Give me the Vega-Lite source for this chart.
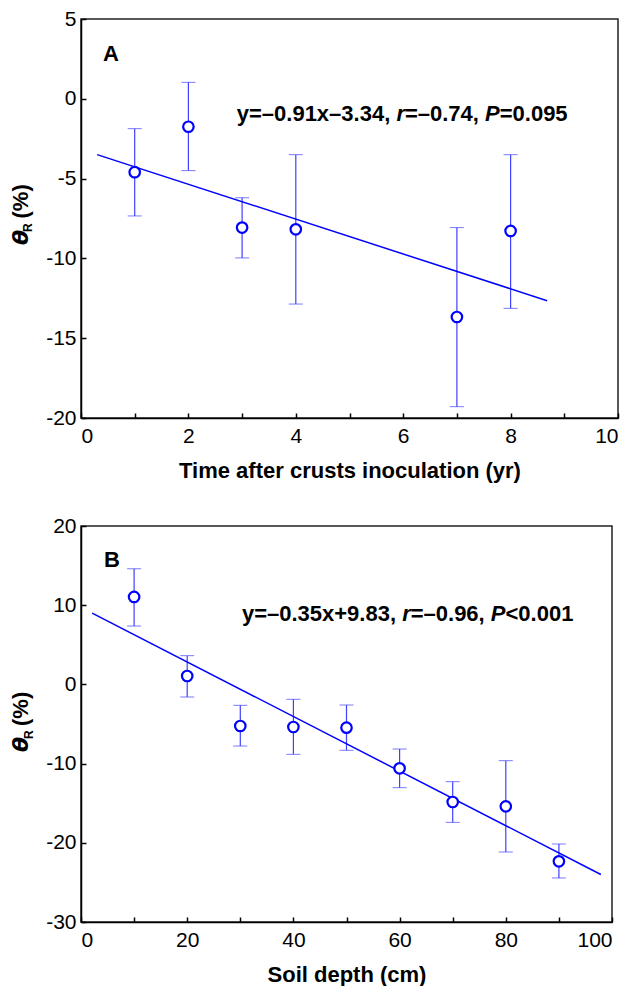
{
  "$schema": "https://vega.github.io/schema/vega-lite/v6.json",
  "background": "white",
  "padding": {"left": 8, "top": 7, "right": 5, "bottom": 0},
  "spacing": 32,
  "config": {
    "font": "Liberation Sans",
    "view": {"stroke": "#222222", "strokeWidth": 1.5},
    "axis": {
      "grid": false,
      "labelFont": "Liberation Sans",
      "labelFontSize": 21,
      "labelColor": "black",
      "titleFont": "Liberation Sans",
      "titleFontSize": 22,
      "titleFontWeight": "bold",
      "titleColor": "black",
      "tickSize": -5,
      "tickColor": "black",
      "tickWidth": 1.5,
      "domainColor": "black",
      "domainWidth": 1.5
    },
    "axisX": {"labelPadding": 12, "titlePadding": 14},
    "axisY": {"labelPadding": 10}
  },
  "datasets": {
    "A": [
      {"t": 1, "m": -4.6, "lo": -7.34, "hi": -1.87},
      {"t": 2, "m": -1.75, "lo": -4.5, "hi": 1.03},
      {"t": 3, "m": -8.07, "lo": -9.97, "hi": -6.2},
      {"t": 4, "m": -8.18, "lo": -12.86, "hi": -3.5},
      {"t": 7, "m": -13.67, "lo": -19.29, "hi": -8.07},
      {"t": 8, "m": -8.28, "lo": -13.13, "hi": -3.5}
    ],
    "Afit": [{"t": 0.3, "fit": -3.5}, {"t": 8.68, "fit": -12.65}],
    "Atext": [
      {"x": 2.9, "y": -1.39, "s": "y=–0.91x–3.34,", "it": false},
      {"x": 5.873, "y": -1.39, "s": "r", "it": true},
      {"x": 6.032, "y": -1.39, "s": "=–0.74,", "it": false},
      {"x": 7.524, "y": -1.39, "s": "P", "it": true},
      {"x": 7.797, "y": -1.39, "s": "=0.095", "it": false}
    ],
    "B": [
      {"d": 10, "m": 11.04, "lo": 7.37, "hi": 14.6},
      {"d": 20, "m": 1.06, "lo": -1.59, "hi": 3.63},
      {"d": 30, "m": -5.25, "lo": -7.78, "hi": -2.64},
      {"d": 40, "m": -5.38, "lo": -8.83, "hi": -1.88},
      {"d": 50, "m": -5.46, "lo": -8.32, "hi": -2.6},
      {"d": 60, "m": -10.6, "lo": -13.04, "hi": -8.16},
      {"d": 70, "m": -14.85, "lo": -17.42, "hi": -12.28},
      {"d": 80, "m": -15.4, "lo": -21.16, "hi": -9.63},
      {"d": 90, "m": -22.34, "lo": -24.44, "hi": -20.15}
    ],
    "Bfit": [{"d": 2.1, "fit": 9.0}, {"d": 97.9, "fit": -24.0}],
    "Btext": [
      {"x": 30.3, "y": 8.0, "s": "y=–0.35x+9.83,", "it": false},
      {"x": 60.48, "y": 8.0, "s": "r", "it": true},
      {"x": 62.09, "y": 8.0, "s": "=–0.96,", "it": false},
      {"x": 77.18, "y": 8.0, "s": "P", "it": true},
      {"x": 79.94, "y": 8.0, "s": "<0.001", "it": false}
    ]
  },
  "vconcat": [
    {
      "width": 537,
      "height": 399,
      "layer": [
        {
          "data": {"name": "A"},
          "mark": {"type": "errorbar", "ticks": {"size": 14, "color": "#4040ff", "strokeWidth": 1.2}, "rule": {"color": "#4040ff", "strokeWidth": 1.2}},
          "encoding": {
            "x": {"field": "t", "type": "quantitative", "scale": {"domain": [0, 10], "nice": false},
              "axis": {"title": "Time after crusts inoculation (yr)", "values": [0,1,2,3,4,5,6,7,8,9,10], "labelExpr": "datum.value % 2 === 0 ? toString(datum.value) : ''"}},
            "y": {"field": "lo", "type": "quantitative", "scale": {"domain": [-20, 5], "nice": false, "zero": false},
              "axis": {"title": null, "values": [-20,-17.5,-15,-12.5,-10,-7.5,-5,-2.5,0,2.5,5], "labelExpr": "datum.value % 5 === 0 ? toString(datum.value) : ''"}},
            "y2": {"field": "hi"}
          }
        },
        {
          "data": {"name": "Afit"},
          "mark": {"type": "line", "color": "#0000ff", "strokeWidth": 1.5},
          "encoding": {
            "x": {"field": "t", "type": "quantitative"},
            "y": {"field": "fit", "type": "quantitative"}
          }
        },
        {
          "data": {"name": "A"},
          "mark": {"type": "point", "shape": "circle", "filled": false, "color": "#0000ff", "strokeWidth": 2.2, "size": 110, "opacity": 1, "fill": "white", "fillOpacity": 1},
          "encoding": {
            "x": {"field": "t", "type": "quantitative"},
            "y": {"field": "m", "type": "quantitative"}
          }
        },
        {
          "data": {"name": "Atext"},
          "transform": [{"filter": "!datum.it"}],
          "mark": {"type": "text", "align": "left", "baseline": "alphabetic", "fontSize": 22, "fontWeight": "bold", "color": "black"},
          "encoding": {
            "x": {"field": "x", "type": "quantitative"},
            "y": {"field": "y", "type": "quantitative"},
            "text": {"field": "s"}
          }
        },
        {
          "data": {"name": "Atext"},
          "transform": [{"filter": "datum.it"}],
          "mark": {"type": "text", "align": "left", "baseline": "alphabetic", "fontSize": 22, "fontWeight": "bold", "fontStyle": "italic", "color": "black"},
          "encoding": {
            "x": {"field": "x", "type": "quantitative"},
            "y": {"field": "y", "type": "quantitative"},
            "text": {"field": "s"}
          }
        },
        {
          "data": {"values": [{"x": 0.41, "y": 2.37, "s": "A"}]},
          "mark": {"type": "text", "align": "left", "baseline": "alphabetic", "fontSize": 22, "fontWeight": "bold", "color": "black"},
          "encoding": {
            "x": {"field": "x", "type": "quantitative"},
            "y": {"field": "y", "type": "quantitative"},
            "text": {"field": "s"}
          }
        },
        {
          "data": {"values": [{"x": -0.996, "y": -9.16, "s": "θ"}]},
          "mark": {"type": "text", "align": "left", "baseline": "alphabetic", "angle": 270, "font": "DejaVu Sans", "fontSize": 22, "fontWeight": "bold", "fontStyle": "italic", "color": "black"},
          "encoding": {
            "x": {"field": "x", "type": "quantitative"},
            "y": {"field": "y", "type": "quantitative"},
            "text": {"field": "s"}
          }
        },
        {
          "data": {"values": [{"x": -0.912, "y": -8.35, "s": "R"}]},
          "mark": {"type": "text", "align": "left", "baseline": "alphabetic", "angle": 270, "fontSize": 12, "fontWeight": "bold", "color": "black"},
          "encoding": {
            "x": {"field": "x", "type": "quantitative"},
            "y": {"field": "y", "type": "quantitative"},
            "text": {"field": "s"}
          }
        },
        {
          "data": {"values": [{"x": -0.996, "y": -7.5, "s": "(%)"}]},
          "mark": {"type": "text", "align": "left", "baseline": "alphabetic", "angle": 270, "fontSize": 22, "fontWeight": "bold", "color": "black"},
          "encoding": {
            "x": {"field": "x", "type": "quantitative"},
            "y": {"field": "y", "type": "quantitative"},
            "text": {"field": "s"}
          }
        }
      ]
    },
    {
      "width": 531,
      "height": 396,
      "layer": [
        {
          "data": {"name": "B"},
          "mark": {"type": "errorbar", "ticks": {"size": 14, "color": "#4040ff", "strokeWidth": 1.2}, "rule": {"color": "#4040ff", "strokeWidth": 1.2}},
          "encoding": {
            "x": {"field": "d", "type": "quantitative", "scale": {"domain": [0, 100], "nice": false},
              "axis": {"title": "Soil depth (cm)", "values": [0,10,20,30,40,50,60,70,80,90,100], "labelExpr": "datum.value % 20 === 0 ? toString(datum.value) : ''"}},
            "y": {"field": "lo", "type": "quantitative", "scale": {"domain": [-30, 20], "nice": false, "zero": false},
              "axis": {"title": null, "values": [-30,-25,-20,-15,-10,-5,0,5,10,15,20], "labelExpr": "datum.value % 10 === 0 ? toString(datum.value) : ''"}},
            "y2": {"field": "hi"}
          }
        },
        {
          "mark": {"type": "rule", "color": "black", "strokeDash": [5, 4], "strokeWidth": 1.3},
          "encoding": {"y": {"datum": 0}}
        },
        {
          "data": {"name": "Bfit"},
          "mark": {"type": "line", "color": "#0000ff", "strokeWidth": 1.5},
          "encoding": {
            "x": {"field": "d", "type": "quantitative"},
            "y": {"field": "fit", "type": "quantitative"}
          }
        },
        {
          "data": {"name": "B"},
          "mark": {"type": "point", "shape": "circle", "filled": false, "color": "#0000ff", "strokeWidth": 2.2, "size": 110, "opacity": 1, "fill": "white", "fillOpacity": 1},
          "encoding": {
            "x": {"field": "d", "type": "quantitative"},
            "y": {"field": "m", "type": "quantitative"}
          }
        },
        {
          "data": {"name": "Btext"},
          "transform": [{"filter": "!datum.it"}],
          "mark": {"type": "text", "align": "left", "baseline": "alphabetic", "fontSize": 22, "fontWeight": "bold", "color": "black"},
          "encoding": {
            "x": {"field": "x", "type": "quantitative"},
            "y": {"field": "y", "type": "quantitative"},
            "text": {"field": "s"}
          }
        },
        {
          "data": {"name": "Btext"},
          "transform": [{"filter": "datum.it"}],
          "mark": {"type": "text", "align": "left", "baseline": "alphabetic", "fontSize": 22, "fontWeight": "bold", "fontStyle": "italic", "color": "black"},
          "encoding": {
            "x": {"field": "x", "type": "quantitative"},
            "y": {"field": "y", "type": "quantitative"},
            "text": {"field": "s"}
          }
        },
        {
          "data": {"values": [{"x": 4.33, "y": 14.82, "s": "B"}]},
          "mark": {"type": "text", "align": "left", "baseline": "alphabetic", "fontSize": 22, "fontWeight": "bold", "color": "black"},
          "encoding": {
            "x": {"field": "x", "type": "quantitative"},
            "y": {"field": "y", "type": "quantitative"},
            "text": {"field": "s"}
          }
        },
        {
          "data": {"values": [{"x": -9.89, "y": -8.54, "s": "θ"}]},
          "mark": {"type": "text", "align": "left", "baseline": "alphabetic", "angle": 270, "font": "DejaVu Sans", "fontSize": 22, "fontWeight": "bold", "fontStyle": "italic", "color": "black"},
          "encoding": {
            "x": {"field": "x", "type": "quantitative"},
            "y": {"field": "y", "type": "quantitative"},
            "text": {"field": "s"}
          }
        },
        {
          "data": {"values": [{"x": -9.04, "y": -6.89, "s": "R"}]},
          "mark": {"type": "text", "align": "left", "baseline": "alphabetic", "angle": 270, "fontSize": 12, "fontWeight": "bold", "color": "black"},
          "encoding": {
            "x": {"field": "x", "type": "quantitative"},
            "y": {"field": "y", "type": "quantitative"},
            "text": {"field": "s"}
          }
        },
        {
          "data": {"values": [{"x": -9.89, "y": -5.25, "s": "(%)"}]},
          "mark": {"type": "text", "align": "left", "baseline": "alphabetic", "angle": 270, "fontSize": 22, "fontWeight": "bold", "color": "black"},
          "encoding": {
            "x": {"field": "x", "type": "quantitative"},
            "y": {"field": "y", "type": "quantitative"},
            "text": {"field": "s"}
          }
        }
      ]
    }
  ]
}
